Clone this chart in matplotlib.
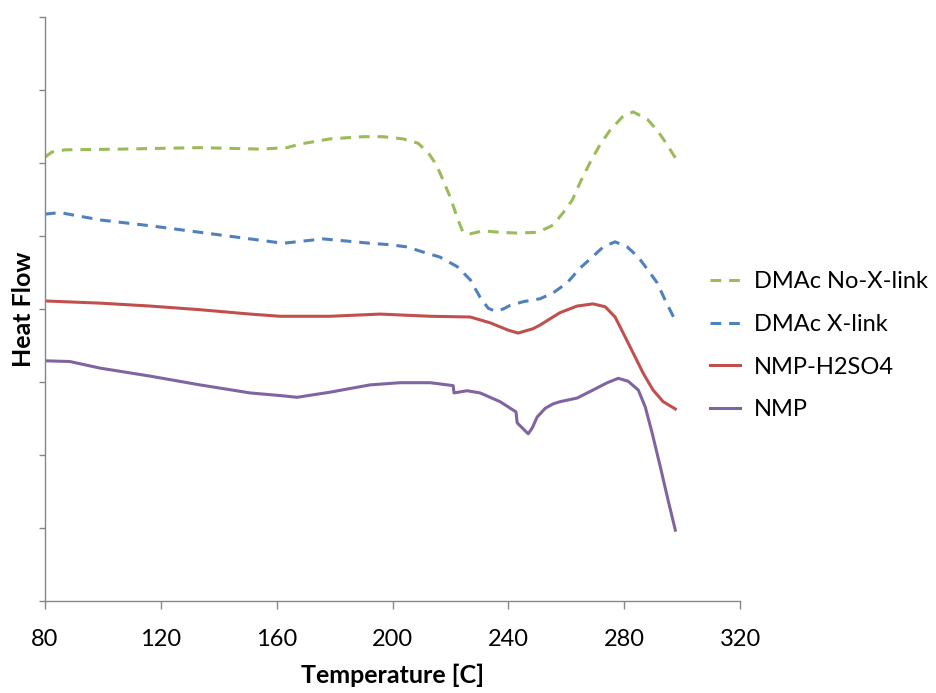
import numpy as np
import matplotlib
matplotlib.use('Agg')
import matplotlib.pyplot as plt

# ── DSC traces (temperature in C, heat flow in arbitrary offset units) ────────
dmac_nox_T = [80.0, 82.4, 86.9, 105.9, 133.5, 154.2, 163.6, 168.1, 172.6, 178.4,
              189.8, 196.7, 203.6, 208.8, 212.3, 214.7, 216.4, 219.9, 222.6, 224.3,
              226.8, 231.3, 237.1, 243.0, 249.9, 253.4, 255.4, 258.9, 262.0, 264.7,
              268.2, 271.6, 275.1, 279.3, 283.0, 287.9, 291.3, 294.1, 297.6]
dmac_nox_H = [6.08, 6.15, 6.18, 6.19, 6.21, 6.19, 6.21, 6.26, 6.29, 6.33,
              6.36, 6.36, 6.33, 6.27, 6.14, 6.00, 5.86, 5.53, 5.22, 5.05,
              5.03, 5.07, 5.05, 5.04, 5.05, 5.11, 5.15, 5.32, 5.49, 5.73,
              6.01, 6.25, 6.45, 6.63, 6.70, 6.60, 6.45, 6.29, 6.07]

dmac_x_T = [80.0, 85.2, 99.0, 116.3, 133.5, 150.8, 162.2, 169.1, 176.0, 184.3,
            192.2, 199.1, 205.0, 210.5, 216.4, 222.3, 226.8, 230.2, 233.0, 235.4,
            238.2, 240.6, 245.1, 250.9, 255.4, 260.3, 264.7, 268.9, 272.7, 276.8,
            281.0, 284.8, 288.2, 291.3, 294.1, 297.6]
dmac_x_H = [5.30, 5.32, 5.22, 5.14, 5.05, 4.96, 4.90, 4.93, 4.96, 4.93,
            4.90, 4.88, 4.85, 4.78, 4.71, 4.58, 4.40, 4.16, 4.01, 3.97,
            4.00, 4.05, 4.10, 4.14, 4.22, 4.36, 4.56, 4.71, 4.85, 4.92,
            4.85, 4.71, 4.53, 4.36, 4.12, 3.84]

nmp_h2so4_T = [80.0, 99.0, 116.3, 133.5, 150.8, 161.1, 178.4, 195.7, 213.0, 226.8,
               233.7, 239.9, 243.3, 248.5, 250.9, 257.8, 263.7, 269.2, 273.4, 276.8,
               279.6, 283.0, 286.5, 289.9, 293.4, 297.6]
nmp_h2so4_H = [4.11, 4.08, 4.04, 3.99, 3.93, 3.90, 3.90, 3.93, 3.90, 3.89,
               3.81, 3.71, 3.67, 3.73, 3.78, 3.95, 4.04, 4.07, 4.03, 3.89,
               3.67, 3.40, 3.12, 2.89, 2.73, 2.63]

nmp_T = [80.0, 88.6, 99.0, 116.3, 133.5, 150.8, 162.2, 167.0, 178.4, 192.2,
         202.6, 213.0, 220.9, 221.2, 225.7, 230.2, 237.1, 242.6, 243.0, 246.8,
         248.2, 249.9, 252.7, 255.4, 257.8, 263.7, 269.2, 274.1, 277.9, 281.3,
         284.8, 287.2, 289.6, 292.4, 295.1, 297.6]
nmp_H = [3.29, 3.28, 3.19, 3.08, 2.96, 2.85, 2.81, 2.79, 2.86, 2.96,
         2.99, 2.99, 2.95, 2.85, 2.88, 2.85, 2.73, 2.59, 2.44, 2.29,
         2.37, 2.52, 2.64, 2.70, 2.73, 2.78, 2.89, 2.99, 3.05, 3.01,
         2.89, 2.66, 2.30, 1.84, 1.38, 0.97]

x_ticks = [80, 120, 160, 200, 240, 280, 320]

# ── Figure ─────────────────────────────────────────────────────────────────────
plt.rcParams['font.family'] = ['Lato', 'DejaVu Sans']

fig = plt.figure(figsize=(9.37, 6.93), dpi=100)
ax = fig.add_axes([0.048, 0.1328, 0.742, 0.8427])

lw = 2.2
dash = (3.5, 2.6)
ax.plot(dmac_nox_T, dmac_nox_H, color='#9BBB59', lw=lw, dashes=dash,
        label='DMAc No-X-link')
ax.plot(dmac_x_T, dmac_x_H, color='#4F81BD', lw=lw, dashes=dash,
        label='DMAc X-link')
ax.plot(nmp_h2so4_T, nmp_h2so4_H, color='#C0504D', lw=lw, label='NMP-H2SO4')
ax.plot(nmp_T, nmp_H, color='#8064A2', lw=lw, label='NMP')

ax.set_xlim(80, 320)
ax.set_ylim(0, 8)
ax.set_xticks(x_ticks)
ax.set_yticks(np.arange(0, 9, 1))
ax.set_yticklabels([])

for side in ('top', 'right'):
    ax.spines[side].set_visible(False)
for side in ('left', 'bottom'):
    ax.spines[side].set_color('#868686')
    ax.spines[side].set_linewidth(1.0)
ax.tick_params(axis='x', direction='out', length=6, width=1, color='#868686',
               labelsize=17, pad=14)
ax.tick_params(axis='y', direction='out', length=4, width=1, color='#868686')

ax.set_xlabel('Temperature [C]', fontsize=18, fontweight='bold', labelpad=10)
ax.set_ylabel('Heat Flow', fontsize=18, fontweight='bold')
ax.yaxis.set_label_coords(-0.014, 0.5)

fig.legend(loc='center left', bbox_to_anchor=(0.758, 0.501), frameon=False,
           fontsize=17, handlelength=1.25, handletextpad=0.6, labelspacing=0.92,
           borderpad=0, borderaxespad=0)

fig.savefig('out.png', dpi=100, facecolor='white')
